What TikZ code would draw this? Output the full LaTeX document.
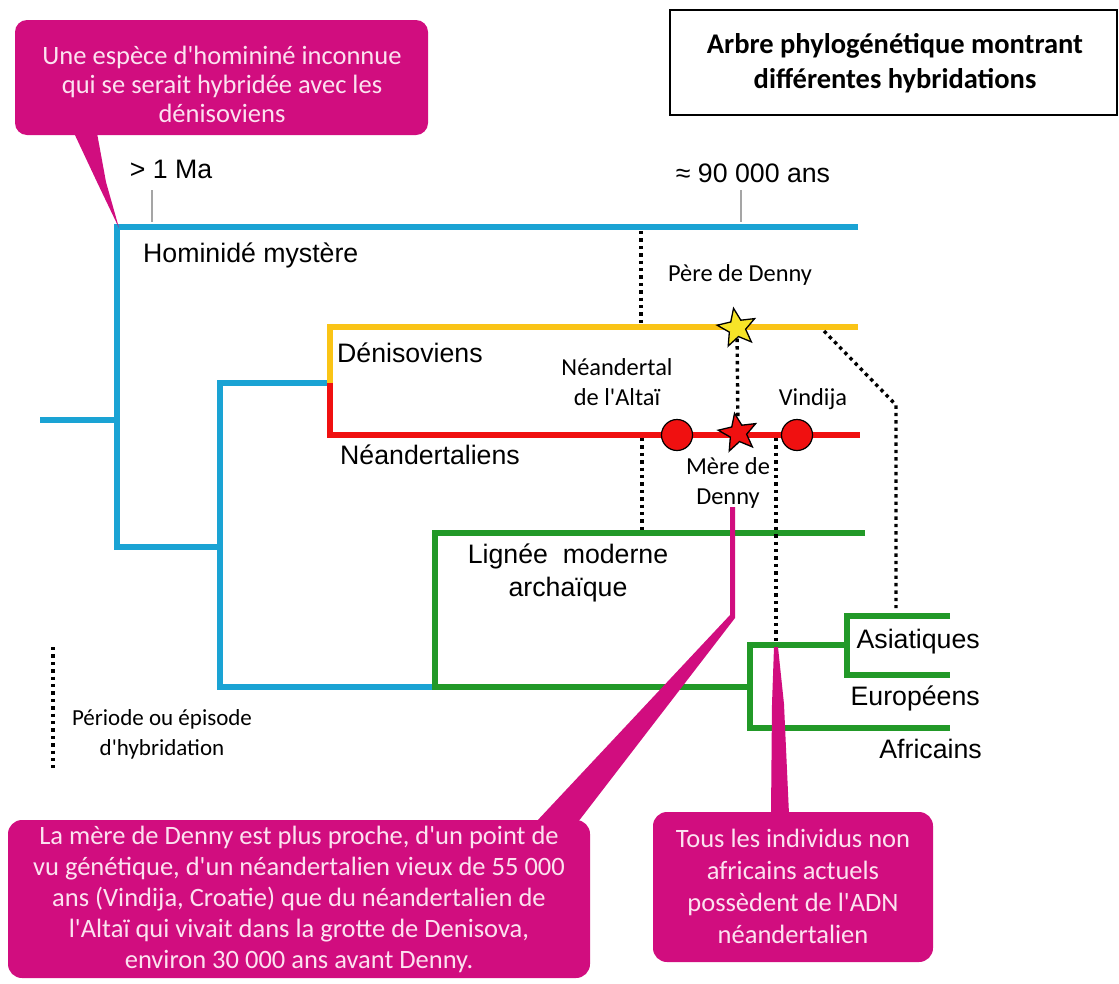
\documentclass[tikz,border=0pt]{standalone}
\usepackage{fontspec}
\setmainfont{Carlito}[Ligatures=TeXOff]
\newfontfamily\arialfont{Liberation Sans}[Ligatures=TeXOff]
\usetikzlibrary{shapes.geometric}

\definecolor{treeblue}{RGB}{26,163,212}
\definecolor{denisyellow}{RGB}{250,196,22}
\definecolor{neanred}{RGB}{240,16,16}
\definecolor{sapgreen}{RGB}{34,153,40}
\definecolor{starfill}{RGB}{247,228,40}
\definecolor{calloutpink}{RGB}{209,13,127}
\definecolor{callouttext}{RGB}{252,226,240}
\definecolor{tickgray}{RGB}{165,165,165}

\begin{document}
\begin{tikzpicture}[x=1pt,y=-1pt,
    branch/.style={line width=6pt, line join=miter},
    hybrid/.style={line width=3.4pt, dash pattern=on 3.4pt off 4pt},
    tick/.style={line width=2pt, draw=tickgray},
    lineage/.style={font=\arialfont\fontsize{26.7}{33}\selectfont, inner sep=0pt, align=center},
    fossil/.style={font=\fontsize{24.4}{30}\selectfont, inner sep=0pt, align=center},
    denny/.style={star, star points=5, star point ratio=2.3, minimum size=40pt,
                  inner sep=0pt, shape border rotate=10, draw=black, line width=1.3pt},
    bone/.style={circle, minimum size=31pt, inner sep=0pt, fill=neanred, draw=black, line width=1.2pt},
    bubbletext/.style={text=callouttext, font=\fontsize{26.5}{31}\selectfont, align=center, inner sep=0pt}]

    \useasboundingbox (0,0) rectangle (1119,983);

    % time scale
    \draw[tick] (152,190) -- (152,222);
    \node[lineage, anchor=base] (ageold) at (171,178) {> 1 Ma};
    \draw[tick] (741,190) -- (741,222);
    \node[lineage, anchor=base] (ageyoung) at (753,182) {≈ 90 000 ans};

    % blue trunk
    \coordinate (root) at (40,420);
    \draw[branch, treeblue] (root) -- (117,420);
    \draw[branch, treeblue] (858,227) -- (117,227) -- (117,547) -- (220,547);
    \draw[branch, treeblue] (330,383) -- (220,383) -- (220,687) -- (435,687);

    % archaic lineages
    \draw[branch, denisyellow] (330,383) -- (330,327) -- (858,327);
    \draw[branch, neanred]     (330,383) -- (330,435) -- (860,435);

    % modern lineages
    \draw[branch, sapgreen] (865,533) -- (435,533) -- (435,687) -- (750,687);
    \draw[branch, sapgreen] (847,645) -- (750,645) -- (750,728) -- (950,728);
    \draw[branch, sapgreen] (950,616) -- (847,616) -- (847,675) -- (950,675);

    \node[lineage, anchor=base west] (myst) at (143,262) {Hominidé mystère};
    \node[lineage, anchor=base west] (denis) at (337,362) {Dénisoviens};
    \node[lineage, anchor=base west] (nean) at (340,464) {Néandertaliens};
    \node[lineage] (archaic) at (568,573) {Lignée\ \ moderne\\archaïque};
    \node[lineage, anchor=base east] (asia) at (980,648) {Asiatiques};
    \node[lineage, anchor=base east] (europe) at (980,705) {Européens};
    \node[lineage, anchor=base east] (africa) at (982,758) {Africains};

    % hybridations
    \coordinate (mystHyb) at (641,231);
    \coordinate (denisHyb) at (641,324);
    \coordinate (neanHybA) at (642,438);
    \coordinate (archHyb) at (642,530);
    \coordinate (neanHybB) at (776,438);
    \coordinate (nonAfr) at (776,643);
    \coordinate (denisHybB) at (824,331);
    \coordinate (bend) at (896,405);
    \coordinate (asiaHyb) at (896,608);
    \draw[hybrid] (mystHyb) -- (denisHyb);
    \draw[hybrid] (neanHybA) -- (archHyb);
    \draw[hybrid] (neanHybB) -- (nonAfr);
    \draw[hybrid] (denisHybB) -- (bend) -- (asiaHyb);

    \node[bone] (altai) at (677,435) {};
    \node[bone] (vindija) at (797,435) {};
    \node[denny, fill=starfill] (father) at (737,328) {};
    \node[denny, fill=neanred] (mother) at (738,433) {};
    \draw[hybrid] (father) -- (mother);

    \node[fossil, anchor=base] (fatherlbl) at (740,281) {Père de Denny};
    \node[fossil] (altailbl) at (617,382) {Néandertal\\de l'Altaï};
    \node[fossil, anchor=base] (vindijalbl) at (813,405) {Vindija};
    \node[fossil, font=\fontsize{24.4}{30}\selectfont] (motherlbl) at (728,483) {Mère de\\Denny};

    % legend
    \coordinate (legTop) at (53,647);
    \coordinate (legBot) at (53,768);
    \draw[hybrid] (legTop) -- (legBot);
    \node[fossil, font=\fontsize{23}{30}\selectfont] (legend) at (162,734) {Période ou épisode\\d'hybridation};

    % title
    \draw[line width=1.5pt] (670,10) rectangle (1117,115);
    \node[font=\bfseries\fontsize{28.5}{35}\selectfont, align=center] (title) at (895,63)
        {Arbre phylogénétique montrant\\différentes hybridations};

    % callouts
    \fill[calloutpink, rounded corners=12pt] (15,20) rectangle (428,135);
    \fill[calloutpink] (74,133) -- (97,133) -- (106,182) -- (119,228) -- (97,182) -- cycle;
    \node[bubbletext, font=\fontsize{26.5}{29}\selectfont] (unknown) at (222,84)
        {Une espèce d'homininé inconnue\\qui se serait hybridée avec les\\dénisoviens};

    \fill[calloutpink] (730,507) -- (735,507) -- (735,618) -- (578,822) -- (536,822) -- (730,615) -- cycle;
    \fill[calloutpink, rounded corners=14pt] (8,820) rectangle (590,978);
    \node[bubbletext] (motherinfo) at (299,899)
        {La mère de Denny est plus proche, d'un point de\\vu génétique, d'un néandertalien vieux de 55 000\\ans (Vindija, Croatie) que du néandertalien de\\l'Altaï qui vivait dans la grotte de Denisova,\\environ 30 000 ans avant Denny.};

    \fill[calloutpink] (774,647) -- (778,647) -- (784,704) -- (789,814) -- (771,814) -- (772,704) -- cycle;
    \fill[calloutpink, rounded corners=14pt] (653,812) rectangle (933,962);
    \node[bubbletext, font=\fontsize{26.5}{32}\selectfont] (nonafrinfo) at (793,886)
        {Tous les individus non\\africains actuels\\possèdent de l'ADN\\néandertalien};
\end{tikzpicture}
\end{document}
